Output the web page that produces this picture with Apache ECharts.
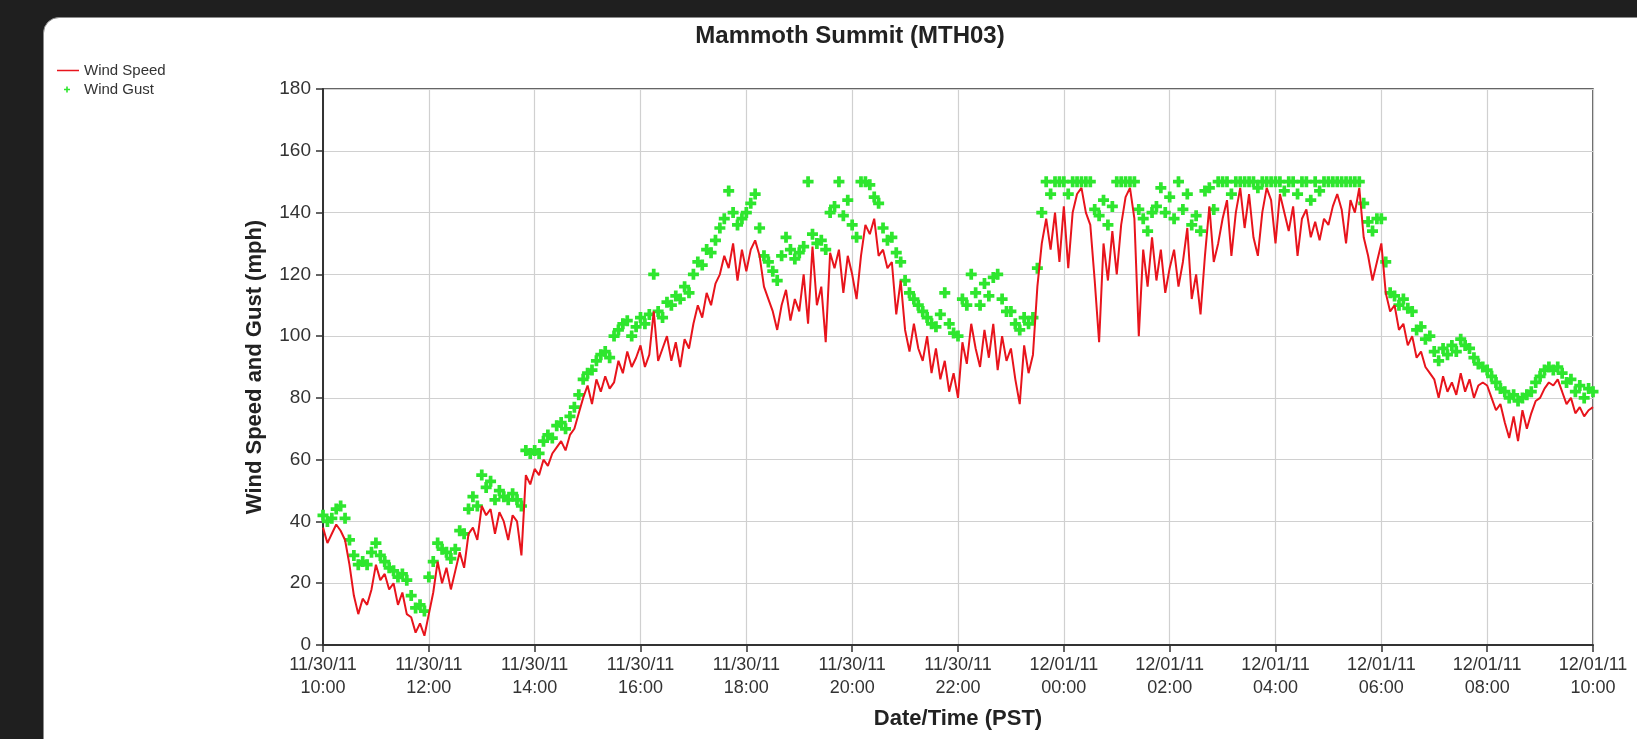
<!DOCTYPE html>
<html>
<head>
<meta charset="utf-8">
<title>Mammoth Summit (MTH03)</title>
<script src="https://cdn.jsdelivr.net/npm/echarts@6/dist/echarts.min.js"></script>
<style>
  html, body { margin: 0; padding: 0; width: 1637px; height: 739px; overflow: hidden; background: #1f1f1f; }
  #panel { position: absolute; left: 43px; top: 17px; width: 1610px; height: 740px; background: #fff;
           border: 1px solid #8c8c8c; border-radius: 16px; box-sizing: border-box; }
  #chart { position: absolute; left: 0; top: 0; width: 1637px; height: 739px; }
</style>
</head>
<body>
<div id="panel"></div>
<div id="chart"></div>
<script>
// Observations every 5 minutes, 11/30/11 10:00 through 12/01/11 10:00 (PST)
const stepMinutes = 5;

const tickLabels = [
  '11/30/11\n10:00', '11/30/11\n12:00', '11/30/11\n14:00', '11/30/11\n16:00',
  '11/30/11\n18:00', '11/30/11\n20:00', '11/30/11\n22:00', '12/01/11\n00:00',
  '12/01/11\n02:00', '12/01/11\n04:00', '12/01/11\n06:00', '12/01/11\n08:00',
  '12/01/11\n10:00'
];

// Wind speed (mph), one row per hour
const windSpeed = [
  38, 33, 36, 39, 37, 34, 26, 16, 10, 15, 13, 18,          // 10:00
  26, 21, 23, 18, 20, 13, 17, 10, 9, 4, 7, 3,              // 11:00
  10, 17, 27, 20, 25, 18, 24, 30, 25, 36, 38, 34,          // 12:00
  45, 42, 44, 36, 43, 40, 34, 42, 40, 29, 55, 52,          // 13:00
  57, 55, 60, 58, 62, 64, 66, 63, 68, 70, 75, 80,          // 14:00
  84, 78, 86, 82, 87, 83, 85, 92, 88, 95, 90, 93,          // 15:00
  97, 90, 94, 108, 92, 96, 100, 92, 98, 90, 99, 96,        // 16:00
  104, 110, 106, 114, 110, 117, 120, 126, 122, 130, 118, 128, // 17:00
  121, 128, 131, 126, 116, 112, 108, 102, 110, 115, 105, 112, // 18:00
  108, 120, 104, 129, 110, 116, 98, 127, 122, 128, 114, 126,  // 19:00
  120, 112, 126, 136, 133, 138, 126, 128, 122, 124, 107, 118, // 20:00
  102, 95, 104, 96, 92, 100, 88, 96, 86, 92, 82, 88,       // 21:00
  80, 98, 91, 104, 96, 90, 102, 93, 104, 89, 100, 92,      // 22:00
  96, 86, 78, 97, 88, 94, 116, 130, 138, 128, 140, 124,    // 23:00
  142, 122, 140, 146, 148, 140, 136, 118, 98, 130, 118, 134,  // 00:00
  120, 136, 145, 148, 138, 100, 128, 116, 132, 118, 128, 114, // 01:00
  122, 128, 116, 124, 135, 112, 120, 107, 126, 142, 124, 130, // 02:00
  138, 144, 126, 140, 148, 135, 146, 132, 126, 140, 148, 144, // 03:00
  130, 146, 140, 134, 142, 126, 138, 141, 132, 137, 131, 138, // 04:00
  136, 142, 146, 141, 130, 144, 140, 148, 132, 126, 118, 124, // 05:00
  130, 114, 108, 110, 102, 104, 97, 100, 93, 95, 90, 88,   // 06:00
  86, 80, 87, 82, 85, 81, 88, 82, 86, 80, 84, 85,          // 07:00
  84, 80, 76, 78, 72, 67, 74, 66, 76, 70, 75, 79,          // 08:00
  80, 83, 85, 84, 86, 82, 78, 80, 75, 77, 74, 76,          // 09:00
  77                                                       // 10:00
];

// Wind gust (mph); the sensor tops out at 150
const windGust = [
  42, 40, 41, 44, 45, 41, 34, 29, 26, 27, 26, 30,
  33, 29, 27, 25, 24, 22, 23, 21, 16, 12, 13, 11,
  22, 27, 33, 31, 30, 28, 31, 37, 36, 44, 48, 45,
  55, 51, 53, 47, 50, 48, 47, 49, 47, 45, 63, 62,
  63, 62, 66, 68, 67, 71, 72, 70, 74, 77, 81, 86,
  88, 89, 92, 94, 95, 93, 100, 102, 104, 105, 100, 103,
  106, 104, 107, 120, 108, 106, 111, 110, 113, 112, 116, 114,
  120, 124, 123, 128, 127, 131, 135, 138, 147, 140, 136, 138,
  140, 143, 146, 135, 126, 124, 121, 118, 126, 132, 128, 125,
  127, 129, 150, 133, 130, 131, 128, 140, 142, 150, 139, 144,
  136, 132, 150, 150, 149, 145, 143, 135, 131, 132, 127, 124,
  118, 114, 112, 110, 108, 106, 104, 103, 107, 114, 104, 101,
  100, 112, 110, 120, 114, 110, 117, 113, 119, 120, 112, 108,
  108, 104, 102, 106, 104, 106, 122, 140, 150, 146, 150, 150,
  150, 146, 150, 150, 150, 150, 150, 141, 139, 144, 136, 142,
  150, 150, 150, 150, 150, 141, 138, 134, 140, 142, 148, 140,
  145, 138, 150, 141, 146, 136, 139, 134, 147, 148, 141, 150,
  150, 150, 146, 150, 150, 150, 150, 150, 148, 150, 150, 150,
  150, 150, 147, 150, 150, 146, 150, 150, 144, 150, 147, 150,
  150, 150, 150, 150, 150, 150, 150, 150, 143, 137, 134, 138,
  138, 124, 114, 113, 110, 112, 109, 108, 102, 103, 99, 100,
  95, 92, 96, 94, 97, 95, 99, 97, 96, 93, 91, 90,
  89, 87, 85, 83, 82, 80, 81, 79, 80, 81, 82, 85,
  87, 89, 90, 89, 90, 88, 85, 86, 82, 84, 80, 83,
  82
];

const speedColor = '#e8141c';
const gustColor = '#2ee62e';
const fontFamily = '"Liberation Sans", Arial, sans-serif';

// plus-shaped marker for gusts
const plusSymbol = 'path://M3.3,0H6.7V3.3H10V6.7H6.7V10H3.3V6.7H0V3.3H3.3Z';
// legend icons padded to a 22x10 box
const legendLineIcon = 'path://M0,0h0.01v0.01h-0.01Z M22,10h-0.01v-0.01h0.01Z M0,4.3H22V5.7H0Z';
const legendPlusIcon = 'path://M0,0h0.01v0.01h-0.01Z M22,10h-0.01v-0.01h0.01Z M7,4.2H9.2V2H10.8V4.2H13V5.8H10.8V8H9.2V5.8H7Z';

const toPoints = arr => arr.map((v, i) => [i * stepMinutes, v]);

const chart = echarts.init(document.getElementById('chart'), null, { renderer: 'canvas' });

chart.setOption({
  animation: false,
  backgroundColor: 'transparent',
  textStyle: { fontFamily: fontFamily },
  title: {
    text: 'Mammoth Summit (MTH03)',
    left: 845,
    top: 19,
    textAlign: 'center',
    textStyle: { fontSize: 24, fontWeight: 'bold', color: '#222', fontFamily: fontFamily }
  },
  legend: {
    orient: 'vertical',
    left: 52,
    top: 56,
    itemWidth: 22,
    itemHeight: 10,
    itemGap: 0,
    selectedMode: false,
    textStyle: { fontSize: 15, lineHeight: 19, color: '#333', fontFamily: fontFamily },
    data: [
      { name: 'Wind Speed', icon: legendLineIcon },
      { name: 'Wind Gust', icon: legendPlusIcon }
    ]
  },
  grid: {
    left: 323, top: 89, width: 1270, height: 556,
    show: true, borderColor: '#333', borderWidth: 1.5, backgroundColor: 'transparent'
  },
  xAxis: {
    type: 'value',
    min: 0,
    max: 1440,
    interval: 120,
    name: 'Date/Time (PST)',
    nameLocation: 'middle',
    nameGap: 63,
    nameTextStyle: { fontSize: 22, fontWeight: 'bold', color: '#222', fontFamily: fontFamily },
    axisLine: { lineStyle: { color: '#333', width: 2 } },
    axisTick: { show: true, length: 7, lineStyle: { color: '#333', width: 1.5 } },
    axisLabel: {
      formatter: v => tickLabels[Math.round(v / 120)] || '',
      fontSize: 18, lineHeight: 23, color: '#333', margin: 9
    },
    splitLine: { show: true, lineStyle: { color: '#d0d0d0', width: 1.2 } }
  },
  yAxis: {
    type: 'value',
    min: 0,
    max: 180,
    interval: 20,
    name: 'Wind Speed and Gust (mph)',
    nameLocation: 'middle',
    nameGap: 57,
    nameTextStyle: { fontSize: 22, fontWeight: 'bold', color: '#222', fontFamily: fontFamily },
    axisLine: { show: true, lineStyle: { color: '#333', width: 2 } },
    axisTick: { show: true, length: 7, lineStyle: { color: '#333', width: 1.5 } },
    axisLabel: { fontSize: 19, color: '#333', margin: 12 },
    splitLine: { show: true, lineStyle: { color: '#d0d0d0', width: 1.2 } }
  },
  series: [
    {
      name: 'Wind Gust',
      type: 'scatter',
      symbol: plusSymbol,
      symbolSize: 11,
      itemStyle: { color: gustColor, opacity: 1 },
      z: 2,
      data: toPoints(windGust)
    },
    {
      name: 'Wind Speed',
      type: 'line',
      showSymbol: false,
      symbol: 'none',
      itemStyle: { color: speedColor },
      lineStyle: { color: speedColor, width: 2 },
      z: 3,
      data: toPoints(windSpeed)
    }
  ]
});
</script>
</body>
</html>
